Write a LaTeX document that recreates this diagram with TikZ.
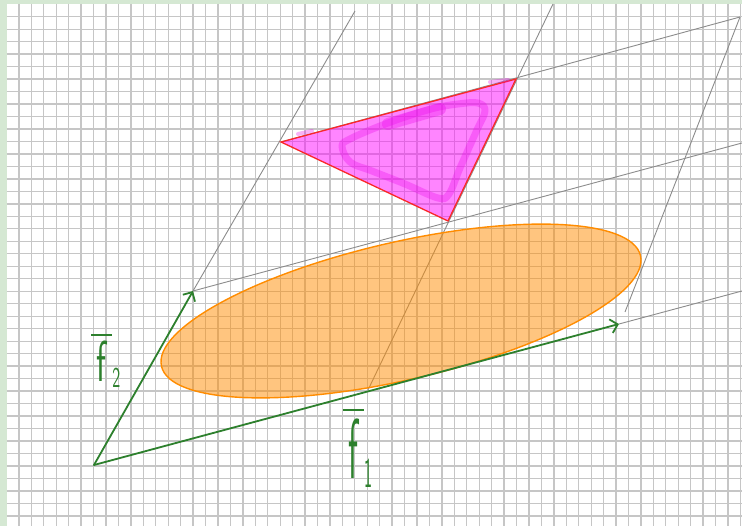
\documentclass[tikz,border=0pt]{standalone}
\usepackage{amsmath}
\usetikzlibrary{arrows.meta}
\definecolor{papergreen}{RGB}{213,232,211}
\definecolor{gridgray}{RGB}{198,198,198}
\definecolor{linegray}{RGB}{140,140,140}
\definecolor{vecgreen}{RGB}{45,128,45}
\definecolor{bloborange}{RGB}{255,140,0}
\definecolor{trired}{RGB}{250,40,40}
\definecolor{trimagenta}{RGB}{255,0,255}
\definecolor{inkmagenta}{RGB}{235,0,235}

\tikzset{
  gridline/.style={gridgray, line width=1.3pt},
  helpline/.style={linegray, line width=0.9pt},
  vecarrow/.style={vecgreen, line width=1.8pt, line cap=round,
    -{Straight Barb[length=7pt,width=14pt,line width=1.8pt]}},
  veclabel/.style={text=vecgreen, font=\sffamily\fontsize{34}{34}\selectfont, inner sep=0pt},
  scribble/.style={inkmagenta, opacity=0.3, line width=7pt, line cap=round, line join=round},
}

\begin{document}
\begin{tikzpicture}[x=1pt, y=-1pt]

    % Paper with the green frame
    \fill[papergreen] (0,0) rectangle (742,526);
    \fill[white] (6.5,4) rectangle (742,526);
    \useasboundingbox (0,0) rectangle (742,526);

    % Grid of the squared paper
    \foreach \k in {1,...,59}
        \draw[gridline] (6.5+12.44*\k,4) -- (6.5+12.44*\k,526);
    \foreach \k in {1,...,41}
        \draw[gridline] (6.5,4.2+12.48*\k) -- (742,4.2+12.48*\k);

    % Basis points
    \coordinate (O) at (94,465);
    \coordinate (F1) at (619,324);
    \coordinate (F2) at (193,291);

    % Triangle corners
    \coordinate (TA) at (281,142);
    \coordinate (TB) at (516,79);
    \coordinate (TC) at (448,221);

    % Ends of the helper lines
    \coordinate (f2top) at (355,11);
    \coordinate (f1end) at (742,291);
    \coordinate (mid1end) at (742,143);
    \coordinate (topend) at (740,17);
    \coordinate (colbot) at (368,390);
    \coordinate (coltop) at (553,4);
    \coordinate (rightbot) at (625,312);

    % --- HELPER LINES ---
    \draw[helpline] (F2) -- (f2top);
    \draw[helpline] (F1) -- (f1end);
    \draw[helpline] (F2) -- (mid1end);
    \draw[helpline] (TA) -- (topend);
    \draw[helpline] (colbot) -- (coltop);
    \draw[helpline] (rightbot) -- (topend);

    % --- ELLIPSE ---
    \coordinate (C) at (401,311);
    \draw[bloborange, line width=1.4pt, fill=bloborange, fill opacity=0.5,
          rotate around={13:(C)}]
        (C) ellipse [x radius=245.8pt, y radius=68.8pt];

    % --- TRIANGLE ---
    \draw[trired, line width=1.3pt, fill=trimagenta, fill opacity=0.48]
        (TA) -- (TB) -- (TC) -- cycle;
    % Hand colouring inside
    \draw[scribble] plot[smooth cycle, tension=0.6] coordinates {
        (342,146) (350,162) (372,171) (405,184) (438,198) (449,194)
        (460,168) (476,132) (485,111) (478,103) (458,104) (435,108)
        (405,117) (375,128) (350,139)};
    \draw[scribble, line width=12pt] (388,124) -- (440,109);
    \draw[scribble, line width=4pt] (298,134) -- (312,131);
    \draw[scribble, line width=4pt] (490,82) -- (508,80);

    % --- VECTORS ---
    \draw[vecarrow] (O) -- (F1);
    \draw[vecarrow] (O) -- (F2);

    % Labels
    \node[veclabel, yscale=1.7] (labf2) at (106,360)
        {$\overline{\text{\,f\,}}_{\scriptscriptstyle\text{2}}$};
    \node[veclabel, yscale=2.5] (labf1) at (358,447)
        {$\overline{\text{\,f\,}}_{\scriptscriptstyle\text{1}}$};

\end{tikzpicture}
\end{document}
